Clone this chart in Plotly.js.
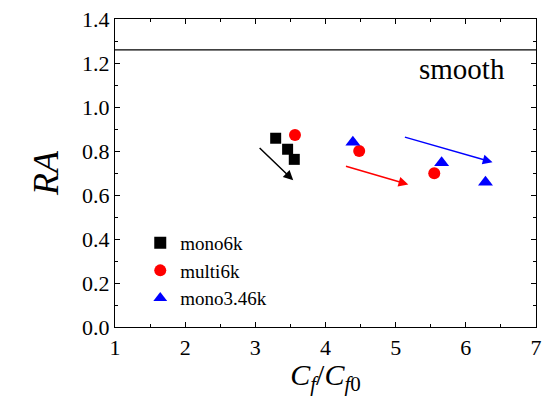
<!DOCTYPE html>
<html>
<head>
<script src="https://cdn.plot.ly/plotly-3.0.1.min.js"></script>
<style>body{margin:0;padding:0;background:#fff}#chart{width:546px;height:396px}
#chart svg text{fill:#000 !important;}</style>
</head>
<body>
<div id="chart"></div>
<script>
// Data
var mono6kX = [3.29, 3.46, 3.555];
var mono6kY = [0.858, 0.808, 0.762];
var multi6kX = [3.565, 4.48, 5.55];
var multi6kY = [0.873, 0.80, 0.699];
var mono346kX = [4.39, 5.655, 6.28];
var mono346kY = [0.84, 0.747, 0.658];
var smoothY = 1.26;
// arrows: [x0, y0, x1, y1]
var arrowBlack = [3.04, 0.82, 3.54, 0.667];
var arrowRed = [4.27, 0.733, 5.18, 0.648];
var arrowBlue = [5.11, 0.865, 6.38, 0.749];

var FONT = "Liberation Serif";

var traces = [
  {x: mono6kX, y: mono6kY, mode: 'markers', type: 'scatter', name: 'mono6k',
   marker: {symbol: 'square', size: 11, color: '#000000'}},
  {x: multi6kX, y: multi6kY, mode: 'markers', type: 'scatter', name: 'multi6k',
   marker: {symbol: 'circle', size: 12, color: '#ff0000'}},
  {x: mono346kX, y: mono346kY, mode: 'markers', type: 'scatter', name: 'mono3.46k',
   marker: {symbol: 'triangle-up', size: 13, color: '#0000ff'}}
];

function arrow(a, color) {
  return {x: a[2], y: a[3], ax: a[0], ay: a[1], xref: 'x', yref: 'y', axref: 'x', ayref: 'y',
    showarrow: true, arrowhead: 2, arrowsize: 1.3, arrowwidth: 1.5, arrowcolor: color, text: ''};
}

var layout = {
  width: 546, height: 396,
  font: {family: FONT},
  margin: {l: 115, r: 10, t: 19, b: 69},
  paper_bgcolor: '#fff', plot_bgcolor: '#fff',
  showlegend: true,
  legend: {x: 0.06, y: 0.335, xanchor: 'left', yanchor: 'top', bgcolor: 'rgba(0,0,0,0)',
    font: {family: FONT, size: 19}, itemsizing: 'constant', tracegroupgap: 0},
  xaxis: {
    range: [1, 7], dtick: 1, tick0: 1, ticks: 'inside', ticklen: 5, tickwidth: 1, tickcolor: '#000',
    minor: {dtick: 0.5, ticks: 'inside', ticklen: 3, tickcolor: '#000'},
    showline: true, linecolor: '#000', linewidth: 1.2, mirror: 'allticks', showgrid: false, zeroline: false,
    tickfont: {family: FONT, size: 22},
    title: {text: '<i>C</i><sub><i>f</i></sub>/<i>C</i><sub><i>f</i>0</sub>', font: {family: FONT, size: 30}, standoff: 6}
  },
  yaxis: {
    range: [0, 1.4], dtick: 0.2, tick0: 0, ticks: 'inside', ticklen: 5, tickwidth: 1, tickcolor: '#000',
    minor: {dtick: 0.1, ticks: 'inside', ticklen: 3, tickcolor: '#000'},
    showline: true, linecolor: '#000', linewidth: 1.2, mirror: 'allticks', showgrid: false, zeroline: false,
    tickformat: '.1f',
    tickfont: {family: FONT, size: 22},
    title: {text: '<i>RA</i>', font: {family: FONT, size: 36}, standoff: 12}
  },
  shapes: [{type: 'line', xref: 'paper', x0: 0, x1: 1, yref: 'y', y0: smoothY, y1: smoothY,
    line: {color: '#000', width: 1.2}}],
  annotations: [
    {xref: 'paper', x: 0.93, yref: 'y', y: smoothY - 0.005, xanchor: 'right', yanchor: 'top', showarrow: false,
     text: 'smooth', font: {family: FONT, size: 29}},
    arrow(arrowBlack, '#000000'), arrow(arrowRed, '#ff0000'), arrow(arrowBlue, '#0000ff')
  ]
};

Plotly.newPlot('chart', traces, layout, {displayModeBar: false, staticPlot: true});
</script>
</body>
</html>
